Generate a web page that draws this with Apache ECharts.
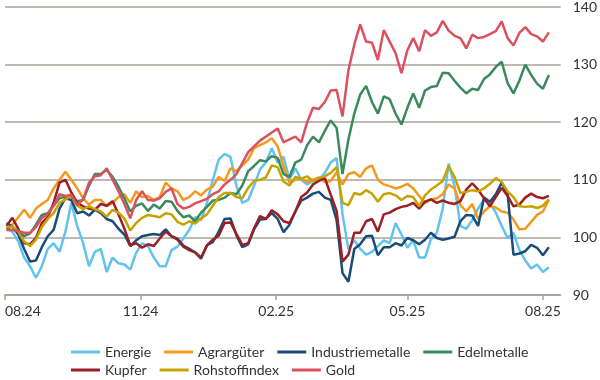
<!DOCTYPE html>
<html>
<head>
<meta charset="utf-8">
<script src="https://cdn.jsdelivr.net/npm/echarts@6/dist/echarts.min.js"></script>
<style>
html,body{margin:0;padding:0;background:#fff;}
#c{width:600px;height:380px;}
</style>
</head>
<body>
<div id="c"></div>
<script>
// x axis: calendar dates
const axisStart = '2024-08-01';
const axisEnd = '2025-08-13';
const firstSample = '2024-08-02';
const sampleStepDays = 4;
const tickDates = ['2024-08-01', '2024-11-01', '2025-02-01', '2025-05-01', '2025-08-01'];
const tickLabels = ['08.24', '11.24', '02.25', '05.25', '08.25'];
const yTicks = [90, 100, 110, 120, 130, 140];

const seriesNames = ['Energie', 'Agrargüter', 'Industriemetalle', 'Edelmetalle', 'Kupfer', 'Rohstoffindex', 'Gold'];

const energie = [101.5,101.0,99.3,96.5,95.0,93.0,95.0,98.0,99.0,97.5,101.0,106.0,102.0,99.0,95.0,97.5,98.0,94.0,96.5,95.5,
95.3,94.4,97.3,99.0,98.5,96.5,95.0,95.0,97.8,98.4,99.8,101.3,103.5,103.0,106.0,110.0,113.5,114.5,114.0,109.0,
106.0,106.5,109.0,111.8,113.0,115.5,113.0,114.0,110.0,112.0,110.0,109.2,109.8,110.0,111.2,113.0,113.8,104.0,98.0,99.5,
98.0,97.0,97.5,98.5,99.5,99.0,102.5,100.5,98.2,99.5,96.5,96.5,99.7,100.8,105.0,112.8,109.0,102.0,101.5,103.0,
105.0,106.6,106.0,104.3,102.0,99.9,100.8,97.8,96.0,94.6,95.3,94.0,94.8];

const agrar = [101.5,102.2,103.5,104.8,103.4,105.0,105.8,106.5,108.5,110.0,111.4,110.0,108.5,106.8,105.7,106.5,106.5,105.4,106.0,107.0,
107.5,106.0,108.0,107.0,107.2,106.5,107.0,109.5,108.5,108.0,106.5,107.0,108.0,107.3,108.3,108.8,110.5,109.8,112.0,111.5,
112.5,113.5,115.5,116.0,116.5,117.2,115.8,112.4,109.5,110.0,110.2,109.6,110.0,110.4,109.6,109.8,111.3,109.2,111.0,111.3,
110.5,112.0,112.5,110.0,109.2,108.9,108.5,108.8,109.3,108.5,107.2,106.0,106.6,106.8,107.5,109.2,108.5,105.6,104.5,105.8,
103.2,104.5,105.4,105.2,104.5,104.3,103.1,101.4,101.5,102.7,103.9,104.5,106.5];

const industrie = [102.5,101.9,100.5,98.0,95.8,96.0,98.3,100.2,101.3,105.0,106.8,106.5,104.2,104.5,103.8,104.8,104.2,103.2,102.8,101.5,
100.5,98.5,99.5,100.2,100.4,100.6,100.4,101.4,100.2,99.8,98.6,98.0,97.4,96.3,98.6,99.2,101.0,103.2,103.3,100.4,
98.3,98.8,101.4,103.1,103.2,104.2,103.2,100.9,102.2,104.5,106.4,106.9,107.6,107.9,106.9,106.5,103.0,93.8,92.3,98.0,
98.8,100.2,100.3,96.9,98.3,98.3,99.0,98.6,99.9,99.5,98.8,99.6,100.8,99.9,99.6,99.8,100.1,102.8,103.9,103.8,
102.0,106.9,106.2,107.5,109.5,107.6,97.0,97.2,97.6,98.7,98.2,96.9,98.3];

const edel = [101.5,101.9,101.0,100.2,100.7,102.2,103.9,104.2,105.5,106.8,107.1,107.0,106.3,106.5,109.0,111.0,111.0,111.7,110.5,108.8,
106.8,104.5,105.5,105.9,104.6,105.7,105.0,106.3,106.2,104.6,103.5,103.8,102.8,104.3,105.3,106.4,106.5,106.9,107.7,107.5,
109.0,111.5,112.4,113.4,113.2,114.1,113.8,111.0,110.5,113.0,113.5,116.0,117.5,116.5,118.5,120.3,119.0,111.0,117.0,121.5,
124.8,126.3,123.5,121.5,124.5,124.0,121.5,119.6,122.5,125.0,122.5,125.5,126.1,126.3,128.6,128.5,127.2,126.0,125.0,125.8,
125.6,127.5,128.3,129.6,130.5,126.8,125.0,127.2,130.0,128.2,126.7,125.8,128.2];

const kupfer = [102.0,103.4,101.5,99.0,98.8,99.9,102.5,103.5,106.0,109.5,110.0,107.8,106.0,105.4,105.0,104.8,105.8,105.5,106.3,104.0,
101.5,98.6,99.0,98.2,98.8,98.5,99.8,101.0,100.2,99.6,98.4,97.8,97.4,96.5,98.6,99.6,100.3,102.5,102.6,100.6,
98.7,99.0,101.6,103.7,103.2,104.7,104.0,102.8,102.5,104.5,107.0,107.8,109.2,109.8,110.3,107.4,104.6,95.8,97.0,100.8,
100.8,102.8,103.2,101.0,104.0,104.3,104.9,105.3,105.5,106.0,105.0,106.2,106.6,106.0,106.4,106.0,105.8,106.3,108.3,109.4,
108.3,106.8,105.4,107.0,108.6,107.2,105.4,105.7,106.9,107.6,107.0,106.8,107.2];

const rohstoff = [101.8,101.9,101.0,99.3,98.5,99.6,101.8,103.2,104.2,106.0,106.6,107.2,105.5,104.9,105.4,104.9,104.5,103.6,104.8,104.3,
103.3,101.2,102.5,103.4,103.9,103.7,103.5,104.2,104.0,102.7,102.2,102.8,102.4,103.3,104.0,105.5,107.0,107.7,107.7,107.0,
106.8,108.6,109.8,110.0,110.4,112.5,112.2,109.7,109.0,110.5,110.2,110.6,109.8,110.3,110.6,111.2,112.2,106.0,105.6,107.7,
107.4,108.2,107.6,106.2,107.5,107.7,107.3,106.5,107.2,107.0,105.4,107.3,108.3,109.0,109.8,112.4,110.5,107.7,107.9,108.2,
108.0,108.5,109.3,110.3,109.6,108.0,107.0,105.4,105.3,105.4,105.1,105.5,106.6];

const gold = [101.3,101.3,101.1,100.8,100.8,101.8,103.4,104.0,105.5,107.5,107.2,107.4,105.6,106.6,109.5,110.6,110.8,112.0,110.0,108.0,
105.8,103.3,106.5,108.0,106.5,106.4,106.8,107.9,108.5,105.8,105.0,105.3,105.9,106.3,106.7,107.5,108.0,109.2,110.0,111.0,
112.9,114.8,115.8,116.8,117.5,118.2,118.9,116.5,117.0,117.5,116.5,120.0,122.5,122.3,123.5,125.5,125.6,121.0,129.0,133.5,
137.0,134.0,133.8,130.8,136.0,134.0,132.0,128.5,132.5,134.6,132.3,136.0,135.0,135.6,137.6,135.9,135.0,134.6,132.8,135.2,
134.6,134.8,135.3,135.8,137.5,134.6,133.3,135.5,136.5,135.3,134.9,134.0,135.6];

const seriesValues = [energie, agrar, industrie, edel, kupfer, rohstoff, gold];
const colors = ['#62c3ee', '#f39a1e', '#1b4b78', '#3a8a5c', '#9b1f24', '#c6a300', '#da525f'];

const DAY = 86400000;
const t0 = Date.parse(axisStart + 'T00:00:00Z');
const dayOf = s => Math.round((Date.parse(s + 'T00:00:00Z') - t0) / DAY);
const firstDay = dayOf(firstSample);
const tickDays = tickDates.map(dayOf);
const labelByDay = {};
tickDays.forEach((d, i) => { labelByDay[d] = tickLabels[i]; });

const FONT = 'Lato, "Liberation Sans", sans-serif';
const gridColor = '#a6a39a';

const legendBase = {
  orient: 'horizontal',
  icon: 'rect', itemWidth: 29, itemHeight: 3, itemGap: 13,
  textStyle: { fontFamily: FONT, fontSize: 14, color: '#333' }
};

const chart = echarts.init(document.getElementById('c'), null, { renderer: 'canvas' });
chart.setOption({
  animation: false,
  color: colors,
  textStyle: { fontFamily: FONT },
  grid: { left: 5, right: 38, top: 7, bottom: 85, containLabel: false },
  legend: [
    Object.assign({}, legendBase, { data: seriesNames.slice(0, 4), left: 66, top: 340 }),
    Object.assign({}, legendBase, { data: seriesNames.slice(4), left: 66, top: 358 })
  ],
  xAxis: {
    type: 'value',
    min: 0,
    max: dayOf(axisEnd),
    axisLine: { show: true, lineStyle: { color: gridColor, width: 1.5 } },
    axisTick: { show: true, customValues: tickDays, length: 5, lineStyle: { color: gridColor, width: 1.5 } },
    axisLabel: {
      customValues: tickDays,
      formatter: v => labelByDay[Math.round(v)] || '',
      fontFamily: FONT, fontSize: 14, color: '#333', margin: 9,
      alignMinLabel: 'left'
    },
    splitLine: { show: false }
  },
  yAxis: {
    type: 'value',
    position: 'right',
    min: yTicks[0],
    max: yTicks[yTicks.length - 1],
    interval: yTicks[1] - yTicks[0],
    axisLine: { show: false },
    axisTick: { show: false },
    axisLabel: { fontFamily: FONT, fontSize: 14, color: '#333', margin: 12 },
    splitLine: { show: true, lineStyle: { color: gridColor, width: 1.5 } }
  },
  series: seriesNames.map((name, i) => ({
    name: name,
    type: 'line',
    showSymbol: false,
    symbol: 'none',
    lineStyle: { width: 2.5, color: colors[i] },
    itemStyle: { color: colors[i] },
    data: seriesValues[i].map((v, j) => [firstDay + j * sampleStepDays, v])
  }))
});
</script>
</body>
</html>
